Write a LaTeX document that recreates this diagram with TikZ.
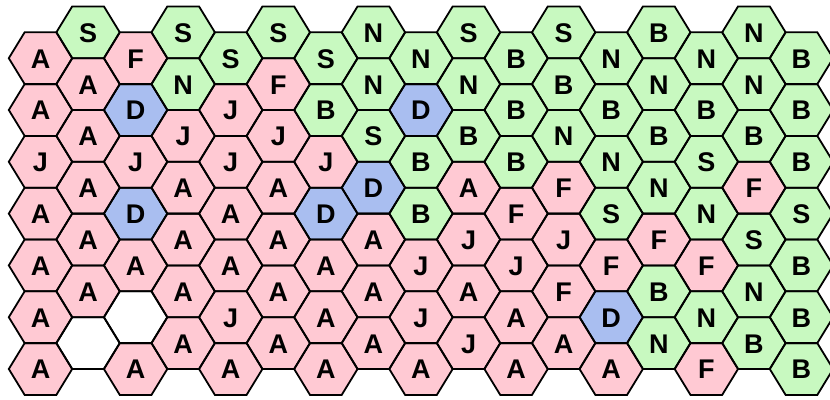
\documentclass[tikz,border=0pt]{standalone}
\usepackage{fontspec}
\setmainfont{Liberation Sans}
\definecolor{pinkc}{RGB}{255,201,211}
\definecolor{greenc}{RGB}{200,249,192}
\definecolor{bluec}{RGB}{169,190,240}
\tikzset{
  cellA/.style={fill=pinkc}, cellJ/.style={fill=pinkc}, cellF/.style={fill=pinkc},
  cellS/.style={fill=greenc}, cellN/.style={fill=greenc}, cellB/.style={fill=greenc},
  cellD/.style={fill=bluec}, cellX/.style={fill=white},
  hexline/.style={draw=black, line width=1.8pt, line join=miter},
  letter/.style={anchor=base, inner sep=0pt, font=\fontsize{27}{30}\selectfont\bfseries}
}
\def\griddata{
 0/{A,A,J,A,A,A,A},
 1/{S,A,A,A,A,A,X},
 2/{F,D,J,D,A,X,A},
 3/{S,N,J,A,A,A,A},
 4/{S,J,J,A,A,J,A},
 5/{S,F,J,A,A,A,A},
 6/{S,B,J,D,A,A,A},
 7/{N,N,S,D,A,A,A},
 8/{N,D,B,B,J,J,A},
 9/{S,N,B,A,J,A,J},
 10/{B,B,B,F,J,A,A},
 11/{S,B,N,F,J,F,A},
 12/{N,B,N,S,F,D,A},
 13/{B,N,B,N,F,B,N},
 14/{N,B,S,N,F,N,F},
 15/{N,N,B,F,S,N,B},
 16/{B,B,B,S,B,B,B}}
\def\hexpath{(-31.7,0) -- (-15.85,-25.9) -- (15.85,-25.9) -- (31.7,0) -- (15.85,25.9) -- (-15.85,25.9) -- cycle}
\begin{document}
\begin{tikzpicture}[x=1pt,y=-1pt]
\useasboundingbox (0,0) rectangle (830,399);
% fills and letters
\foreach \c/\list in \griddata {
  \foreach \L [count=\ri from 0] in \list {
    \pgfmathsetmacro\cx{40.5+47.56*\c}
    \pgfmathsetmacro\cy{ifthenelse(mod(\c,2)==0,58.2,32.3)+51.8*\ri}
    \path[cell\L, shift={(\cx,\cy)}] \hexpath;
    \if\L X\else
      \node[letter] (t-\c-\ri) at (\cx,\cy+9.9) {\L};
    \fi
  }
}
% outlines
\foreach \c/\list in \griddata {
  \foreach \L [count=\ri from 0] in \list {
    \pgfmathsetmacro\cx{40.5+47.56*\c}
    \pgfmathsetmacro\cy{ifthenelse(mod(\c,2)==0,58.2,32.3)+51.8*\ri}
    \path[hexline, shift={(\cx,\cy)}] \hexpath;
  }
}
\end{tikzpicture}
\end{document}
